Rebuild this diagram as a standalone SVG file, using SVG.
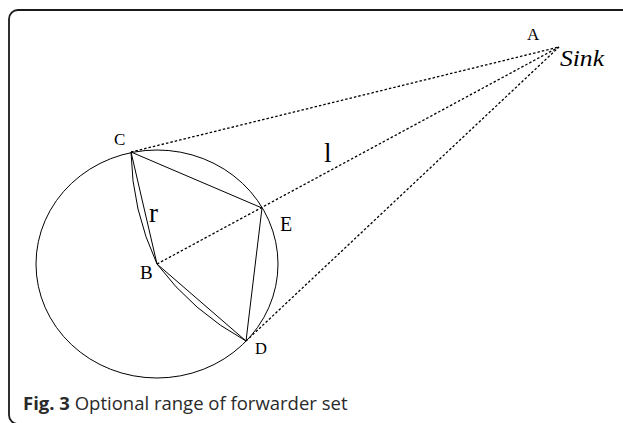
<svg xmlns="http://www.w3.org/2000/svg" width="623" height="423" viewBox="0 0 623 423">
<style>
.frame{fill:none;stroke:#1a1a1a;stroke-width:1.8}
.solid{fill:none;stroke:#000;stroke-width:1}
.dot{fill:none;stroke:#000;stroke-width:1.3;stroke-dasharray:2.5 2}
.lbl{font-family:"Liberation Serif","Times New Roman",serif;fill:#000}
.cap{font-family:"Open Sans","Noto Sans",sans-serif;fill:#2a2a2a}
</style>
<rect class="frame" x="9" y="10" width="640" height="414" rx="9" ry="9"/>
<g id="circle">
<ellipse class="solid" cx="157" cy="264" rx="121" ry="114"/>
</g>
<g id="connectors">
<line class="solid" x1="131" y1="152" x2="262" y2="208"/>
<line class="solid" x1="262" y1="208" x2="246" y2="341"/>
<line class="solid" x1="131" y1="152" x2="157" y2="264"/>
<line class="solid" x1="157" y1="264" x2="246" y2="341"/>
<path class="solid" d="M131,152 Q132,210 157,264"/>
<path class="solid" d="M157,264 Q193,312 246,341"/>
<line class="dot" x1="131" y1="152" x2="559" y2="47"/>
<line class="dot" x1="157" y1="264" x2="559" y2="47"/>
<line class="dot" x1="246" y1="341" x2="559" y2="47"/>
</g>
<g id="node-A">
<text class="lbl" x="527" y="40" font-size="17">A</text>
<text class="lbl" x="560" y="66" font-size="23" font-style="italic" textLength="44" lengthAdjust="spacingAndGlyphs">Sink</text>
</g>
<g id="node-C"><text class="lbl" x="114" y="145" font-size="17">C</text></g>
<g id="node-B"><text class="lbl" x="140" y="279" font-size="19">B</text></g>
<g id="node-E"><text class="lbl" x="280" y="231" font-size="20">E</text></g>
<g id="node-D"><text class="lbl" x="255" y="354" font-size="16.5">D</text></g>
<g id="labels">
<text class="lbl" x="149" y="221.5" font-size="27">r</text>
<text class="lbl" x="324" y="161.5" font-size="27">l</text>
</g>
<g id="caption">
<text class="cap" x="23" y="410" font-size="18.5"><tspan font-weight="bold">Fig. 3</tspan> Optional range of forwarder set</text>
</g>
</svg>
